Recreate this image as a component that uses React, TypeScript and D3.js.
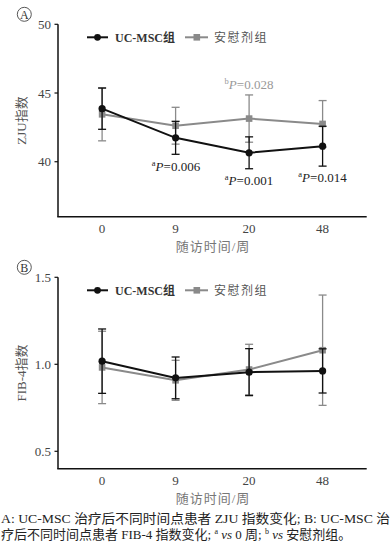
import React from "react";
import * as d3 from "d3";

const weeks = ["0", "9", "20", "48"];
const zjuMsc = [43.86, 41.74, 40.65, 41.13];
const zjuMscSd = [1.5, 1.2, 1.16, 1.45];
const zjuPlacebo = [43.45, 42.62, 43.14, 42.75];
const zjuPlaceboSd = [1.93, 1.34, 1.72, 1.7];
const fibMsc = [1.018, 0.922, 0.955, 0.962];
const fibMscSd = [0.185, 0.12, 0.135, 0.127];
const fibPlacebo = [0.982, 0.908, 0.97, 1.081];
const fibPlaceboSd = [0.208, 0.115, 0.145, 0.317];
const zjuTicks = [40, 45, 50];
const fibTicks = [0.5, 1.0, 1.5];
const seriesNames = ["UC-MSC组", "安慰剂组"];

const BLACK = "#111";
const GRAY = "#8a8a8a";
const serif = "'Liberation Serif', 'Times New Roman', 'Noto Sans CJK SC', serif";
const cjk = "'Liberation Serif', 'Noto Sans CJK SC', serif";

const x = d3.scaleLinear().domain([-0.6, 3.6]).range([58, 366.7]);

type PanelProps = {
  letter: string;
  y: d3.ScaleLinear<number, number>;
  ticks: number[];
  fmt: (v: number) => string;
  msc: number[];
  mscSd: number[];
  pla: number[];
  plaSd: number[];
  ylabel: string;
  top: number;
  bottom: number;
  children?: React.ReactNode;
};

function Series({ vals, sds, y, color, shape }: { vals: number[]; sds: number[]; y: any; color: string; shape: string }) {
  const line = d3
    .line<number>()
    .x((_, i) => x(i))
    .y((d) => y(d));
  return (
    <g>
      {vals.map((v, i) => {
        const cx = x(i);
        const t = y(v + sds[i]);
        const b = y(v - sds[i]);
        return (
          <g key={i} stroke={color} strokeWidth={1.3}>
            <line x1={cx} x2={cx} y1={t} y2={b} />
            <line x1={cx - 4} x2={cx + 4} y1={t} y2={t} />
            <line x1={cx - 4} x2={cx + 4} y1={b} y2={b} />
          </g>
        );
      })}
      <path d={line(vals) || ""} fill="none" stroke={color} strokeWidth={2} />
      {vals.map((v, i) =>
        shape === "circle" ? (
          <circle key={i} cx={x(i)} cy={y(v)} r={3.6} fill={color} />
        ) : (
          <rect key={i} x={x(i) - 3.3} y={y(v) - 3.3} width={6.6} height={6.6} fill={color} />
        )
      )}
    </g>
  );
}

function Panel(p: PanelProps) {
  const { y, top, bottom } = p;
  const legendY = top + 13;
  return (
    <g>
      <circle cx={24.3} cy={top - 10} r={7} fill="none" stroke="#444" strokeWidth={0.9} />
      <text x={24.3} y={top - 5.8} textAnchor="middle" fontFamily={serif} fontSize={12} fill="#333">
        {p.letter}
      </text>
      {/* axes */}
      <line x1={58} x2={58} y1={top} y2={bottom} stroke={BLACK} strokeWidth={1.5} />
      <line x1={57.25} x2={366.7} y1={bottom} y2={bottom} stroke={BLACK} strokeWidth={1.5} />
      {p.ticks.map((t) => (
        <g key={t}>
          <line x1={54.5} x2={58} y1={y(t)} y2={y(t)} stroke={BLACK} strokeWidth={1.2} />
          <text x={51} y={y(t) + 4.5} textAnchor="end" fontFamily={serif} fontSize={13} fill="#444">
            {p.fmt(t)}
          </text>
        </g>
      ))}
      {weeks.map((w, i) => (
        <text key={w} x={x(i)} y={bottom + 16} textAnchor="middle" fontFamily={serif} fontSize={13} fill="#444">
          {w}
        </text>
      ))}
      <text x={213} y={bottom + 34} textAnchor="middle" fontFamily={cjk} fontSize={13} fill="#777" letterSpacing={1}>
        随访时间/周
      </text>
      <text
        transform={`translate(26,${(top + bottom) / 2}) rotate(-90)`}
        textAnchor="middle"
        fontFamily={cjk}
        fontSize={13}
        fill="#555"
      >
        {p.ylabel}
      </text>
      {/* legend */}
      <line x1={87} x2={108} y1={legendY} y2={legendY} stroke={BLACK} strokeWidth={2} />
      <circle cx={97.5} cy={legendY} r={3.4} fill={BLACK} />
      <text x={115} y={legendY + 4.3} fontFamily={cjk} fontSize={12} fontWeight="bold" fill="#333">
        {seriesNames[0]}
      </text>
      <line x1={185} x2={208} y1={legendY} y2={legendY} stroke={GRAY} strokeWidth={2} />
      <rect x={193.5} y={legendY - 3.3} width={6.6} height={6.6} fill={GRAY} />
      <text x={214} y={legendY + 4.3} fontFamily={cjk} fontSize={12} fill="#555" letterSpacing={1.5}>
        {seriesNames[1]}
      </text>
      <Series vals={p.pla} sds={p.plaSd} y={y} color={GRAY} shape="rect" />
      <Series vals={p.msc} sds={p.mscSd} y={y} color={BLACK} shape="circle" />
      {p.children}
    </g>
  );
}

function PLabel({ cx, cy, sup, val, color }: { cx: number; cy: number; sup: string; val: string; color: string }) {
  return (
    <text x={cx} y={cy + 4.5} textAnchor="middle" fontFamily={serif} fontSize={13} fill={color}>
      <tspan fontSize={8.5} dy={-5}>{sup}</tspan>
      <tspan fontStyle="italic" dy={5}>P</tspan>
      <tspan>={val}</tspan>
    </text>
  );
}

export default function App() {
  const yA = d3.scaleLinear().domain([36, 50]).range([216.7, 24.3]);
  const yB = d3.scaleLinear().domain([0.4, 1.5]).range([468.7, 277.3]);
  return (
    <svg width={392} height={546} style={{ position: "absolute", left: 0, top: 0, background: "#fff" }}>
      <Panel
        letter="A"
        y={yA}
        ticks={zjuTicks}
        fmt={(v) => String(v)}
        msc={zjuMsc}
        mscSd={zjuMscSd}
        pla={zjuPlacebo}
        plaSd={zjuPlaceboSd}
        ylabel="ZJU指数"
        top={24.3}
        bottom={216.7}
      >
        <PLabel cx={176} cy={166.5} sup="a" val="0.006" color="#222" />
        <PLabel cx={249} cy={180.5} sup="a" val="0.001" color="#222" />
        <PLabel cx={322.5} cy={177} sup="a" val="0.014" color="#222" />
        <PLabel cx={249} cy={84.5} sup="b" val="0.028" color="#999" />
      </Panel>
      <Panel
        letter="B"
        y={yB}
        ticks={fibTicks}
        fmt={(v) => v.toFixed(1)}
        msc={fibMsc}
        mscSd={fibMscSd}
        pla={fibPlacebo}
        plaSd={fibPlaceboSd}
        ylabel="FIB-4指数"
        top={277.3}
        bottom={468.7}
      />
      <text x={1} y={523} fontFamily={cjk} fontSize={13} fill="#222" textLength={389} lengthAdjust="spacingAndGlyphs">
        A: UC-MSC 治疗后不同时间点患者 ZJU 指数变化; B: UC-MSC 治
      </text>
      <text x={1} y={538.5} fontFamily={cjk} fontSize={13} fill="#222">
        疗后不同时间点患者 FIB-4 指数变化; <tspan fontSize={8} dy={-5}>a</tspan>
        <tspan dy={5} fontStyle="italic"> vs</tspan> 0 周; <tspan fontSize={8} dy={-5}>b</tspan>
        <tspan dy={5} fontStyle="italic"> vs</tspan> 安慰剂组。
      </text>
    </svg>
  );
}
